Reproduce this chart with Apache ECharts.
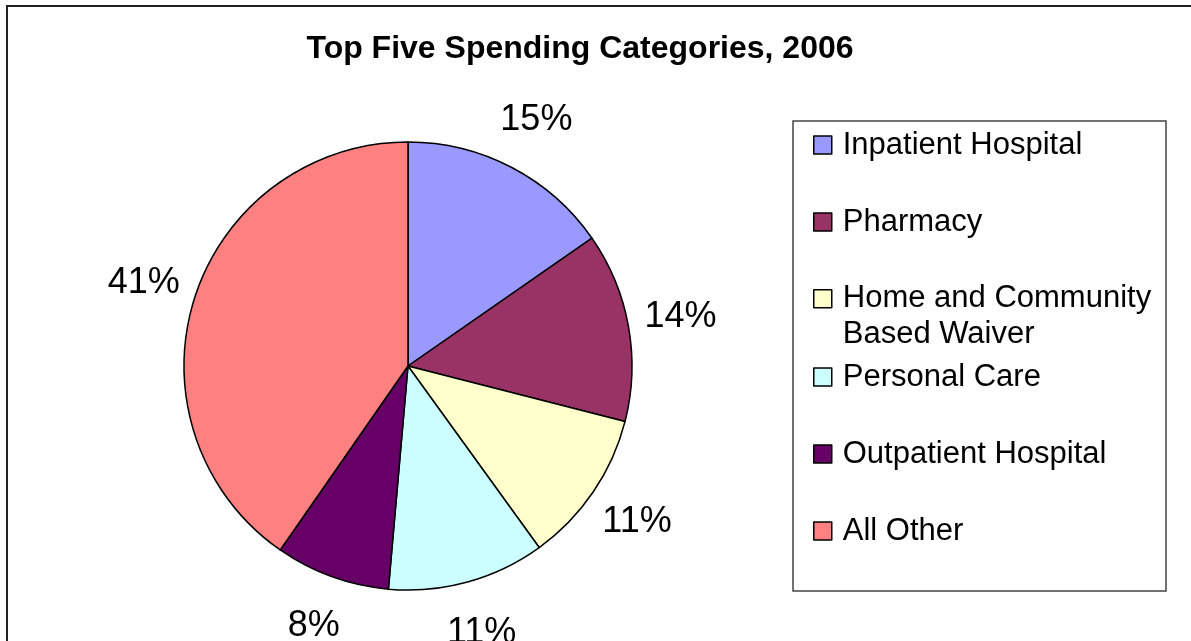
<!DOCTYPE html>
<html>
<head>
<meta charset="utf-8">
<title>Top Five Spending Categories, 2006</title>
<script src="https://cdn.jsdelivr.net/npm/echarts@6/dist/echarts.min.js"></script>
<style>
  html, body { margin: 0; padding: 0; background: #fff; }
  #chart { width: 1191px; height: 641px; }
</style>
</head>
<body>
<div id="chart"></div>
<script>
const categories = [
  "Inpatient Hospital",
  "Pharmacy",
  "Home and Community\nBased Waiver",
  "Personal Care",
  "Outpatient Hospital",
  "All Other",
];
const shares = [15.4, 13.7, 11.1, 11.4, 8.3, 40.5];
const sliceColors = ["#9999FF", "#993366", "#FFFFCC", "#CCFFFF", "#660066", "#FF8080"];

const font = "'Liberation Sans', Arial, sans-serif";
const pieCenter = [408, 366];

const chart = echarts.init(document.getElementById("chart"));

// legend is split in three so the two-line entry sits like the original
const legendBase = {
  orient: "vertical",
  left: 813,
  padding: 0,
  itemGap: 41,
  itemWidth: 18,
  itemHeight: 18,
  icon: "rect",
  selectedMode: false,
  itemStyle: { borderColor: "#000", borderWidth: 1.5 },
  textStyle: {
    fontFamily: font,
    fontSize: 31,
    color: "#000",
    lineHeight: 36,
    padding: [0, 0, 0, 6],
  },
};

chart.setOption({
  backgroundColor: "#fff",
  animation: false,
  title: {
    text: "Top Five Spending Categories, 2006",
    left: 575,
    textAlign: "center",
    top: 28,
    textStyle: { fontFamily: font, fontSize: 32, fontWeight: "bold", color: "#000" },
  },
  legend: [
    Object.assign({}, legendBase, { top: 127, data: categories.slice(0, 2) }),
    Object.assign({}, legendBase, {
      top: 280,
      itemHeight: 72,
      // square sits beside the first text line
      icon: "path://M0,9L18,9L18,27L0,27Z M0,0L0,0 M0,72L0,72",
      data: [categories[2]],
    }),
    Object.assign({}, legendBase, { top: 359, data: categories.slice(3) }),
  ],
  graphic: [
    {
      // outer chart frame
      type: "rect",
      shape: { x: 7, y: 6, width: 1200, height: 700 },
      style: { fill: null, stroke: "#222", lineWidth: 2 },
      silent: true,
    },
    {
      // legend frame
      type: "rect",
      shape: { x: 793, y: 121, width: 373, height: 470 },
      style: { fill: null, stroke: "#444", lineWidth: 1.5 },
      silent: true,
    },
  ],
  series: [
    {
      type: "pie",
      center: pieCenter,
      radius: 224,
      startAngle: 90,
      clockwise: true,
      data: categories.map((name, i) => ({
        name,
        value: shares[i],
        itemStyle: { color: sliceColors[i] },
      })),
      itemStyle: { borderColor: "#000", borderWidth: 1.5 },
      label: { show: false },
      labelLine: { show: false },
      emphasis: { disabled: true },
    },
    {
      // invisible ring that only carries the percentage labels
      type: "pie",
      center: pieCenter,
      radius: [224, 324],
      startAngle: 90,
      clockwise: true,
      silent: true,
      legendHoverLink: false,
      data: categories.map((name, i) => ({ name, value: shares[i] })),
      itemStyle: { color: "rgba(0,0,0,0)", borderWidth: 0 },
      label: {
        show: true,
        position: "inside",
        formatter: (p) => Math.round(p.value) + "%",
        fontFamily: font,
        fontSize: 36,
        color: "#000",
      },
      labelLine: { show: false },
      emphasis: { disabled: true },
    },
  ],
});

window.addEventListener("resize", () => chart.resize());
</script>
</body>
</html>
